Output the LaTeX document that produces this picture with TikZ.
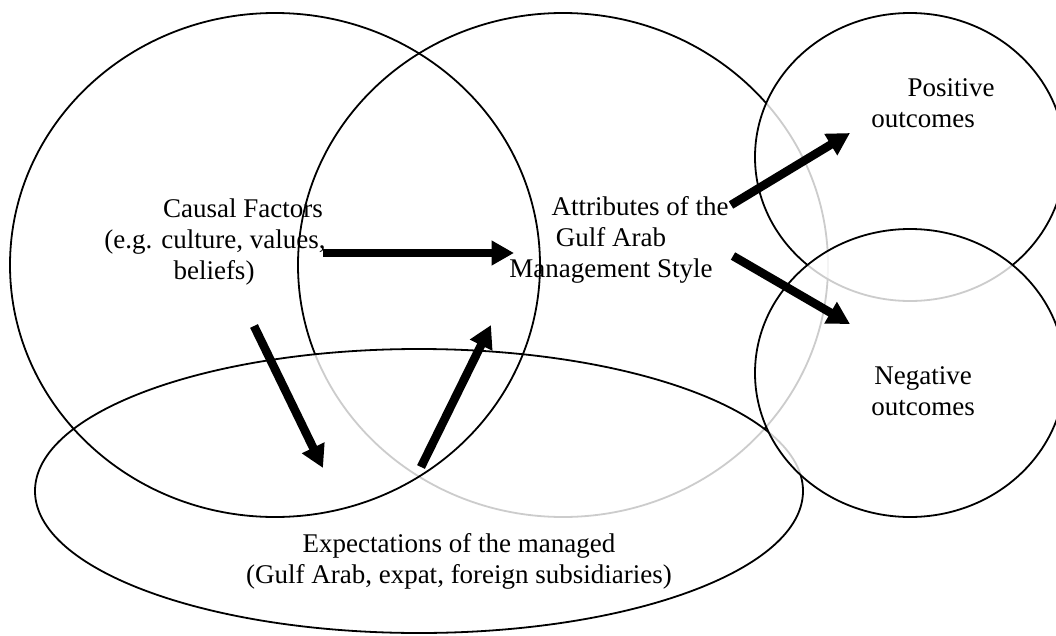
\documentclass[tikz,border=0pt]{standalone}
\usepackage{fontspec}
\setmainfont{Liberation Serif}
\usetikzlibrary{arrows.meta,shapes.geometric}
\begin{document}
\begin{tikzpicture}[x=0.44444pt,y=-0.44444pt,
  ring/.style={draw=black, line width=0.8pt, ellipse, inner sep=0pt},
  veil/.style={ring, fill=white, fill opacity=0.8},
  lbl/.style={font=\fontsize{12}{14}\selectfont, inner sep=0pt, anchor=base},
  fat/.style={line width=3.8pt, -{Triangle[length=10pt,width=10.5pt]}}]
\useasboundingbox (0,0) rectangle (1056,636);
% shapes, in drawing order
\node[ring, minimum width={530*0.44444pt}, minimum height={504*0.44444pt}] (mid) at (563,265) {};
\node[veil, minimum width={768*0.44444pt}, minimum height={284*0.44444pt}] (exp) at (419,491) {};
\node[ring, minimum width={530*0.44444pt}, minimum height={504*0.44444pt}] (cause) at (275,265) {};
\node[veil, minimum width={310*0.44444pt}, minimum height={288*0.44444pt}] (pos) at (910,157) {};
\node[veil, minimum width={310*0.44444pt}, minimum height={288*0.44444pt}] (neg) at (910,373) {};
% texts
\node[lbl] (t1) at (243,217) {Causal Factors};
\node[lbl] (t2) at (215,248) {(e.g. culture, values,};
\node[lbl] (t3) at (214,279) {beliefs)};
\node[lbl] (a1) at (640,215) {Attributes of the};
\node[lbl] (a2) at (611,246) {Gulf Arab};
\node[lbl] (a3) at (611,277) {Management Style};
\node[lbl] (p1) at (951,97) {Positive};
\node[lbl] (p2) at (923,127) {outcomes};
\node[lbl] (n1) at (923,384) {Negative};
\node[lbl] (n2) at (923,415) {outcomes};
\node[lbl] (e1) at (459,552) {Expectations of the managed};
\node[lbl] (e2) at (459,583) {(Gulf Arab, expat, foreign subsidiaries)};
% arrow ends
\coordinate (h0) at (323,253); \coordinate (h1) at (514,253);
\coordinate (u0) at (731,205); \coordinate (u1) at (850,133);
\coordinate (d0) at (733,256); \coordinate (d1) at (850,324);
\coordinate (l0) at (254,326); \coordinate (l1) at (323,468);
\coordinate (r0) at (421,467); \coordinate (r1) at (491,325);
\draw[fat] (h0) -- (h1);
\draw[fat] (u0) -- (u1);
\draw[fat] (d0) -- (d1);
\draw[fat] (l0) -- (l1);
\draw[fat] (r0) -- (r1);
\end{tikzpicture}
\end{document}
